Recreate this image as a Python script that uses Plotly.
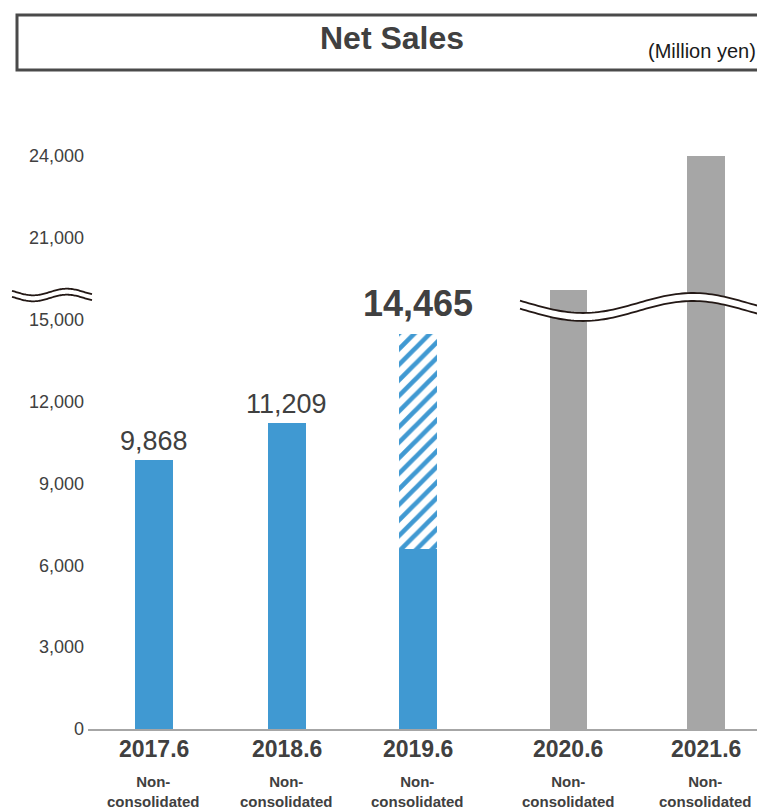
import numpy as np
import plotly.graph_objects as go

# ---- data -------------------------------------------------------------
periods = ["2017.6", "2018.6", "2019.6", "2020.6", "2021.6"]
net_sales = [9868, 11209, 14465, 19080, 24000]          # million yen
sub_label = "Non-<br>consolidated"
base_2019 = 6590                                         # solid part of the 2019.6 bar
labelled = [True, True, True, False, False]
highlight = [False, False, True, False, False]
is_forecast_color = [False, False, False, True, True]

tick_values = [0, 3000, 6000, 9000, 12000, 15000, 21000, 24000]

# ---- axis break: values above the break are drawn shifted down --------
BREAK_AT = 16000
BREAK_GAP = 3000


def shown(v):
    return v if v <= BREAK_AT else v - BREAK_GAP


# ---- styling ----------------------------------------------------------
BLUE = "#4099D2"
GRAY = "#A6A6A6"
TEXT = "#404040"
FONT = "Liberation Sans, Arial, sans-serif"

W, H = 757, 809
ML, MR, MT, MB = 88, 0, 100, 80
PW, PH = W - ML - MR, H - MT - MB
Y_TOP = 23040

slot = [0, 1, 1.985, 3.115, 4.15]          # horizontal slot of each period
X_RANGE = [-0.496, 4.534]
BAR_W = 0.28


def px_x(px):
    return (px - ML) / PW


def px_y(py):
    return (H - MB - py) / PH


fig = go.Figure()

blue_idx = [i for i in range(len(periods)) if not is_forecast_color[i]]
gray_idx = [i for i in range(len(periods)) if is_forecast_color[i]]

solid_heights = [base_2019 if highlight[i] else net_sales[i] for i in blue_idx]
fig.add_bar(x=[slot[i] for i in blue_idx], y=[shown(v) for v in solid_heights],
            width=BAR_W, marker=dict(color=BLUE, line=dict(width=0)),
            hoverinfo="skip", showlegend=False)

for i in blue_idx:
    if highlight[i]:
        fig.add_bar(x=[slot[i]], y=[shown(net_sales[i]) - base_2019], base=[base_2019],
                    width=BAR_W,
                    marker=dict(color="white", line=dict(width=0),
                                pattern=dict(shape="/", fgcolor=BLUE, bgcolor="white",
                                             size=11, solidity=0.42, fillmode="replace")),
                    hoverinfo="skip", showlegend=False)

fig.add_bar(x=[slot[i] for i in gray_idx], y=[shown(net_sales[i]) for i in gray_idx],
            width=BAR_W, marker=dict(color=GRAY, line=dict(width=0)),
            hoverinfo="skip", showlegend=False)

annotations = []
for i, p in enumerate(periods):
    if labelled[i]:
        txt = f"{net_sales[i]:,}"
        if highlight[i]:
            txt = f"<b>{txt}</b>"
        annotations.append(dict(x=slot[i], y=shown(net_sales[i]), xref="x", yref="y",
                                text=txt, showarrow=False, yanchor="bottom",
                                yshift=8 if highlight[i] else 2,
                                font=dict(size=36 if highlight[i] else 27, color=TEXT,
                                          family=FONT)))
    annotations.append(dict(x=slot[i], y=0, xref="x", yref="y", text=f"<b>{p}</b>",
                            showarrow=False, yanchor="middle", yshift=-20,
                            font=dict(size=23, color=TEXT, family=FONT)))
    annotations.append(dict(x=slot[i], y=0, xref="x", yref="y", text=f"<b>{sub_label}</b>",
                            showarrow=False, yanchor="middle", yshift=-62,
                            font=dict(size=15, color=TEXT, family=FONT)))

# title box
annotations.append(dict(x=px_x(392), y=px_y(38), xref="paper", yref="paper",
                        text="<b>Net Sales</b>", showarrow=False,
                        xanchor="center", yanchor="middle",
                        font=dict(size=32, color=TEXT, family=FONT)))
annotations.append(dict(x=px_x(758), y=px_y(51), xref="paper", yref="paper",
                        text="(Million yen)", showarrow=False,
                        xanchor="right", yanchor="middle",
                        font=dict(size=20, color="#1a1a1a", family=FONT)))

shapes = [dict(type="rect", xref="paper", yref="paper",
               x0=px_x(17), x1=px_x(775), y0=px_y(70), y1=px_y(15),
               line=dict(color="#4a4a4a", width=3), fillcolor="rgba(0,0,0,0)")]


def wave(x0, x1, trough_x, half, mid, amp, gap, n=80):
    xs = np.linspace(x0, x1, n)
    upper = mid + amp * np.cos(np.pi * (xs - trough_x) / half)
    lower = upper + gap
    up = [(px_x(a), px_y(b)) for a, b in zip(xs, upper)]
    lo = [(px_x(a), px_y(b)) for a, b in zip(xs, lower)]
    band = "M " + " L ".join(f"{a},{b}" for a, b in up) + " L " + \
        " L ".join(f"{a},{b}" for a, b in lo[::-1]) + " Z"
    line_u = "M " + " L ".join(f"{a},{b}" for a, b in up)
    line_l = "M " + " L ".join(f"{a},{b}" for a, b in lo)
    return [
        dict(type="path", xref="paper", yref="paper", path=band,
             fillcolor="white", line=dict(width=0), layer="above"),
        dict(type="path", xref="paper", yref="paper", path=line_u,
             line=dict(color="#231815", width=1.8), layer="above"),
        dict(type="path", xref="paper", yref="paper", path=line_l,
             line=dict(color="#231815", width=1.8), layer="above"),
    ]


# break marks on the axis and across the bars
shapes += wave(12, 92, 33, 34, 292, 3.3, 6)
shapes += wave(520, 757, 583, 110, 303, 10, 8)

fig.update_layout(
    width=W, height=H,
    margin=dict(l=ML, r=MR, t=MT, b=MB, pad=0),
    paper_bgcolor="white", plot_bgcolor="white",
    barmode="overlay", bargap=0,
    font=dict(family=FONT, color=TEXT),
    xaxis=dict(range=X_RANGE, showticklabels=False, showgrid=False, zeroline=False,
               showline=True, linecolor="#A6A6A6", linewidth=2, ticks="", fixedrange=True),
    yaxis=dict(range=[0, Y_TOP], tickvals=[shown(v) for v in tick_values],
               ticktext=[f"{v:,}" for v in tick_values], showgrid=False, zeroline=False,
               showline=False, ticks="", ticklabelstandoff=3,
               tickfont=dict(size=18, color=TEXT, family=FONT),
               fixedrange=True),
    annotations=annotations,
    shapes=shapes,
)

fig.write_html("out.html")
